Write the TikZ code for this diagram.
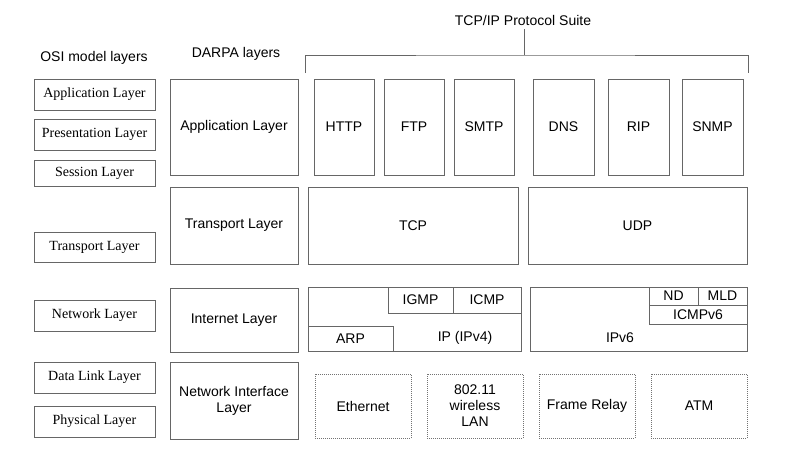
\documentclass[tikz,border=0pt]{standalone}
\usepackage{fontspec}
\setmainfont{Liberation Sans}
\newfontfamily\osifont{Liberation Serif}
\usetikzlibrary{positioning}

\begin{document}
\begin{tikzpicture}[x=1pt,y=-1pt,
    layerbox/.style={draw=black!60,line width=0.8pt,inner sep=0pt,align=center,font=\fontsize{14}{16}\selectfont},
    osibox/.style={layerbox,minimum width=121,minimum height=31,font=\osifont\fontsize{14}{16}\selectfont},
    darpabox/.style={layerbox,minimum width=128},
    protobox/.style={layerbox,minimum height=96},
    linkbox/.style={layerbox,draw=black!55,dash pattern=on 1pt off 1pt,minimum width=96,minimum height=64},
    plaintext/.style={inner sep=0pt,font=\fontsize{14}{16}\selectfont}]

    \useasboundingbox (0,0) rectangle (800,463);

    \node[plaintext] (osititle) at (94,58) {OSI model layers};
    \node[plaintext] (darpatitle) at (236,54) {DARPA layers};
    \node[plaintext] (suite) at (523,20) {TCP/IP Protocol Suite};

    \node[osibox] (osiapp) at (94.5,94.5) {Application Layer};
    \node[osibox] (osipres) at (94.5,134.5) {Presentation Layer};
    \node[osibox,minimum height=26] (osisess) at (94.5,173) {Session Layer};
    \node[osibox,minimum height=30] (ositrans) at (94.5,247) {Transport Layer};
    \node[osibox] (osinet) at (94.5,315.5) {Network Layer};
    \node[osibox] (osilink) at (94.5,377.5) {Data Link Layer};
    \node[osibox] (osiphys) at (94.5,421.5) {Physical Layer};

    \node[darpabox,minimum height=96] (darpaapp) at (234,127) {Application Layer};
    \node[darpabox,minimum height=77] (darpatrans) at (234,225.5) {Transport Layer};
    \node[darpabox,minimum height=64] (darpanet) at (234,320) {Internet Layer};
    \node[darpabox,minimum height=77] (darpaif) at (234,400.5) {Network Interface\\Layer};

    \coordinate (suiteleft) at (305,73);
    \coordinate (suiteright) at (748,73);
    \coordinate (suitemid) at (524,55);
    \draw[draw=black!60,line width=0.8pt] (suiteleft) |- (suitemid) -| (suiteright);
    \draw[draw=black!60,line width=0.8pt] (suite.south -| suitemid) ++(0,4) -- (suitemid);

    \node[protobox,minimum width=60] (http) at (344,127) {HTTP};
    \node[protobox,minimum width=60] (ftp) at (414,127) {FTP};
    \node[protobox,minimum width=60] (smtp) at (484,127) {SMTP};
    \node[protobox,minimum width=61] (dns) at (563.5,127) {DNS};
    \node[protobox,minimum width=61] (rip) at (638.5,127) {RIP};
    \node[protobox,minimum width=61] (snmp) at (712.5,127) {SNMP};

    \node[layerbox,minimum width=210,minimum height=77] (tcp) at (413,225.5) {TCP};
    \node[layerbox,minimum width=219,minimum height=77] (udp) at (637.5,225.5) {UDP};

    \node[layerbox,minimum width=213,minimum height=64] (ipvfour) at (414.5,319) {};
    \node[layerbox,minimum width=65,minimum height=26] (igmp) at (420.5,300) {IGMP};
    \node[layerbox,minimum width=68,minimum height=26] (icmp) at (487,300) {ICMP};
    \node[layerbox,minimum width=85,minimum height=25] (arp) at (350.5,338.5) {ARP};
    \node[plaintext] (ipvfourtext) at (465,338) {IP (IPv4)};

    \node[layerbox,minimum width=217,minimum height=64] (ipvsix) at (638.5,319) {};
    \node[layerbox,minimum width=49,minimum height=18] (nd) at (673.5,296) {ND};
    \node[layerbox,minimum width=49,minimum height=18] (mld) at (722.5,296) {MLD};
    \node[layerbox,minimum width=98,minimum height=19] (icmpvsix) at (698,314.5) {ICMPv6};
    \node[plaintext] (ipvsixtext) at (620,338) {IPv6};

    \node[linkbox] (ethernet) at (363,406) {Ethernet};
    \node[linkbox] (wlan) at (475,406) {802.11\\wireless\\LAN};
    \node[linkbox] (framerelay) at (587,406) {Frame Relay};
    \node[linkbox] (atm) at (699,406) {ATM};

\end{tikzpicture}
\end{document}
